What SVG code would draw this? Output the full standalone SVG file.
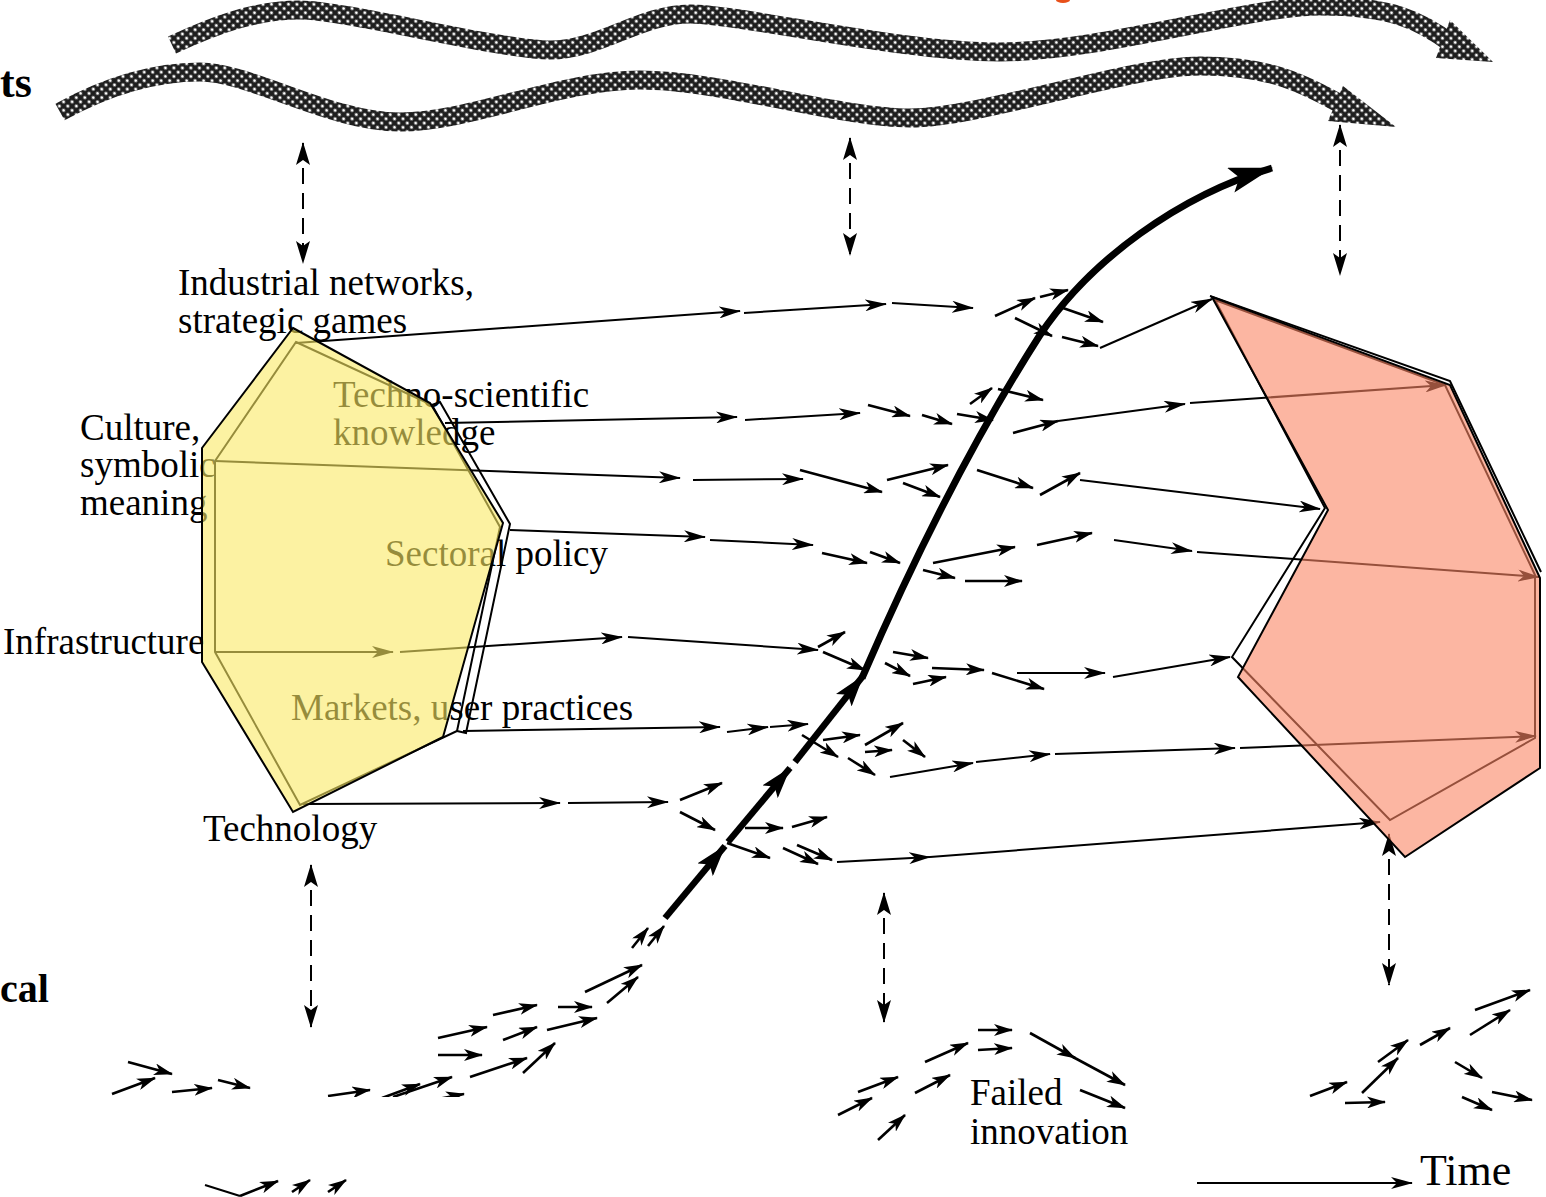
<svg xmlns="http://www.w3.org/2000/svg" width="1546" height="1197" viewBox="0 0 1546 1197">
<defs>
<style>
.t{font-family:"Liberation Serif","Times New Roman",serif;font-size:37px;fill:#000}
.b{font-weight:bold;font-size:44px}
.ln{fill:none;stroke:#000;stroke-width:2;marker-end:url(#m)}
.pl{fill:none;stroke:#000;stroke-width:2}
.sa{fill:none;stroke:#000;stroke-width:2.6;marker-end:url(#s)}
.ds{fill:none;stroke:#000;stroke-width:2;stroke-dasharray:16 9;marker-start:url(#d);marker-end:url(#d)}
.tk{fill:none;stroke:#000;stroke-width:6.5;marker-end:url(#tk)}
.wv{fill:none;stroke:url(#hatch);stroke-width:19}
</style>
<pattern id="hatch" width="6" height="6" patternUnits="userSpaceOnUse" patternTransform="rotate(45)">
<rect width="6" height="6" fill="#1e1e1e"/>
<circle cx="3" cy="3" r="1.6" fill="#fff"/>
</pattern>
<marker id="m" viewBox="0 0 22 12" refX="21" refY="6" markerWidth="22" markerHeight="12" markerUnits="userSpaceOnUse" orient="auto"><path d="M0,0 L22,6 L0,12 L6,6Z"/></marker>
<marker id="s" viewBox="0 0 19 12" refX="18" refY="6" markerWidth="19" markerHeight="12" markerUnits="userSpaceOnUse" orient="auto"><path d="M0,0 L19,6 L0,12 L5,6Z"/></marker>
<marker id="d" viewBox="0 0 23 14" refX="22" refY="7" markerWidth="23" markerHeight="14" markerUnits="userSpaceOnUse" orient="auto-start-reverse"><path d="M0,0 L23,7 L0,14 L5,7Z"/></marker>
<marker id="tk" viewBox="0 0 32 20" refX="31" refY="10" markerWidth="32" markerHeight="20" markerUnits="userSpaceOnUse" orient="auto"><path d="M0,0 L32,10 L0,20 L7,10Z"/></marker>
<marker id="bg" viewBox="0 0 44 26" refX="43" refY="13" markerWidth="44" markerHeight="26" markerUnits="userSpaceOnUse" orient="auto"><path d="M0,0 L44,13 L0,26 L9,13Z"/></marker>
</defs>
<rect width="1546" height="1197" fill="#fff"/>
<ellipse cx="1063" cy="0" rx="7" ry="3" fill="#e8501a"/>

<g id="labels">
<text class="t b" x="0" y="97">ts</text>
<text class="t" x="0" y="1002" style="font-weight:bold;font-size:40px">cal</text>
<text class="t" x="178" y="295">Industrial networks,</text>
<text class="t" x="178" y="333">strategic games</text>
<text class="t" x="333" y="407">Techno-scientific</text>
<text class="t" x="333" y="445">knowledge</text>
<text class="t" x="80" y="440">Culture,</text>
<text class="t" x="80" y="477">symbolic</text>
<text class="t" x="80" y="515">meaning</text>
<text class="t" x="385" y="566">Sectoral policy</text>
<text class="t" x="3" y="654">Infrastructure</text>
<text class="t" x="291" y="720">Markets, user practices</text>
<text class="t" x="203" y="841">Technology</text>
<text class="t" x="970" y="1105">Failed</text>
<text class="t" x="970" y="1144">innovation</text>
<text class="t" x="1420" y="1185" style="font-size:44px">Time</text>
</g>

<g id="landscape">
<path class="wv" d="M172,45 C215,25 255,10 300,10 S500,50 550,50 S640,14 690,14 S900,52 1000,52 S1250,6 1320,6 S1420,20 1452,44"/>
<polygon points="1450,20 1493,62 1436,58" fill="url(#hatch)"/>
<path class="wv" d="M60,112 C100,90 150,72 200,72 S330,122 400,122 S560,80 640,80 S840,118 910,118 S1130,66 1200,66 S1300,82 1348,108"/>
<polygon points="1343,86 1396,127 1328,121" fill="url(#hatch)"/>
</g>

<g id="connectors">
<path class="ds" d="M303,143 L303,263"/>
<path class="ds" d="M850,138 L850,255"/>
<path class="ds" d="M1340,125 L1340,275"/>
<path class="ds" d="M311,865 L311,1027"/>
<path class="ds" d="M884,893 L884,1022"/>
<path class="ds" d="M1389,834 L1389,985"/>

<g id="row-industrial">
<path class="ln" d="M296,343 L740,311"/>
<path class="ln" d="M744,313 L886,304"/>
<path class="ln" d="M892,303 L973,308"/>
<path class="sa" d="M995,316 L1035,298"/>
<path class="sa" d="M1040,297 L1068,290"/>
<path class="sa" d="M1015,318 L1052,336"/>
<path class="sa" d="M1063,308 L1103,322"/>
<path class="sa" d="M1062,337 L1098,346"/>
<path class="ln" d="M1100,348 L1212,299"/>
</g>
<g id="row-techno">
<path class="ln" d="M445,423 L737,417"/>
<path class="ln" d="M745,420 L860,413"/>
<path class="sa" d="M868,405 L910,416"/>
<path class="sa" d="M922,415 L952,424"/>
<path class="sa" d="M957,414 L993,420"/>
<path class="sa" d="M970,404 L992,388"/>
<path class="sa" d="M998,389 L1043,400"/>
<path class="sa" d="M1013,433 L1058,421"/>
<path class="ln" d="M1058,421 L1185,404"/>
<path class="ln" d="M1190,403 L1446,385"/>
</g>
<g id="row-culture">
<path class="ln" d="M215,461 L680,478"/>
<path class="ln" d="M693,480 L803,479"/>
<path class="sa" d="M800,470 L882,492"/>
<path class="sa" d="M887,480 L948,465"/>
<path class="sa" d="M903,483 L940,497"/>
<path class="sa" d="M977,470 L1033,488"/>
<path class="sa" d="M1040,495 L1080,473"/>
<path class="ln" d="M1080,480 L1320,509"/>
</g>
<g id="row-sectoral">
<path class="ln" d="M510,530 L705,537"/>
<path class="ln" d="M710,540 L813,545"/>
<path class="sa" d="M822,553 L867,563"/>
<path class="sa" d="M870,552 L900,563"/>
<path class="sa" d="M923,570 L955,578"/>
<path class="sa" d="M965,581 L1022,581"/>
<path class="sa" d="M933,563 L1015,547"/>
<path class="sa" d="M1037,545 L1092,533"/>
<path class="ln" d="M1114,540 L1192,551"/>
<path class="ln" d="M1197,552 L1539,577"/>
</g>
<g id="row-infrastructure">
<path class="ln" d="M215,652 L393,652"/>
<path class="ln" d="M400,652 L622,637"/>
<path class="ln" d="M628,637 L818,650"/>
<path class="sa" d="M818,647 L845,632"/>
<path class="sa" d="M823,652 L865,670"/>
<path class="sa" d="M893,652 L928,658"/>
<path class="sa" d="M885,663 L910,676"/>
<path class="sa" d="M913,684 L946,677"/>
<path class="sa" d="M932,668 L984,670"/>
<path class="sa" d="M992,673 L1044,689"/>
<path class="ln" d="M1017,673 L1105,673"/>
<path class="ln" d="M1113,677 L1230,657"/>
</g>
<g id="row-markets">
<path class="ln" d="M463,731 L720,727"/>
<path class="ln" d="M727,732 L768,727"/>
<path class="ln" d="M770,727 L808,724"/>
<path class="sa" d="M802,735 L838,757"/>
<path class="sa" d="M823,740 L860,735"/>
<path class="sa" d="M865,745 L903,723"/>
<path class="sa" d="M865,752 L892,750"/>
<path class="sa" d="M848,758 L875,775"/>
<path class="sa" d="M903,740 L925,757"/>
<path class="ln" d="M890,777 L973,763"/>
<path class="ln" d="M976,762 L1050,754"/>
<path class="ln" d="M1055,754 L1235,748"/>
<path class="ln" d="M1240,748 L1536,736"/>
</g>
<g id="row-technology">
<path class="ln" d="M303,804 L560,803"/>
<path class="ln" d="M568,803 L668,802"/>
<path class="sa" d="M680,800 L722,783"/>
<path class="sa" d="M680,812 L715,830"/>
<path class="sa" d="M745,828 L783,828"/>
<path class="sa" d="M792,827 L827,817"/>
<path class="sa" d="M727,843 L770,858"/>
<path class="sa" d="M783,848 L818,864"/>
<path class="sa" d="M797,845 L832,860"/>
<path class="ln" d="M837,862 L930,857"/>
<path class="ln" d="M930,857 L1380,822"/>
</g>
</g>

<g id="regime-left">
<path class="pl" d="M296,342 L432,405 L500,527 L457,731 L300,805 L215,652 L215,461 Z"/>
<path class="pl" d="M432,405 L440,402 L510,524 L466,733 L457,731"/>
<polygon points="293,328 430,403 503,523 443,737 293,812 202,662 202,448" fill="#fae964" fill-opacity="0.6" stroke="#000" stroke-width="2"/>
</g>

<g id="regime-right">
<path class="pl" d="M1215,300 L1445,385 L1535,575 L1535,738 L1390,820 L1232,657 L1325,508 Z"/>
<path class="pl" d="M1210,296 L1450,381 L1541,572"/>
<polygon points="1212,297 1450,385 1540,578 1540,768 1405,857 1238,677 1328,510" fill="#fa8564" fill-opacity="0.6" stroke="#000" stroke-width="2"/>
</g>

<g id="breakthrough">
<path class="tk" d="M665,918 L725,846"/>
<path class="tk" d="M728,842 L790,768"/>
<path class="tk" d="M795,762 L863,676"/>
<path d="M862,678 C900,590 960,460 1040,335 C1090,260 1180,195 1272,168" fill="none" stroke="#000" stroke-width="7" marker-end="url(#bg)"/>
</g>

<g id="niche-left">
<path class="sa" d="M128,1062 L172,1074"/>
<path class="sa" d="M112,1094 L155,1078"/>
<path class="sa" d="M172,1092 L212,1088"/>
<path class="sa" d="M218,1080 L250,1088"/>
<path class="sa" d="M328,1096 L370,1090"/>
<path class="sa" d="M382,1098 L420,1084"/>
<path class="sa" d="M393,1097 L452,1077"/>
<path class="sa" d="M438,1099 L464,1094"/>
<path class="sa" d="M470,1077 L527,1058"/>
<path class="sa" d="M523,1073 L555,1043"/>
<path class="sa" d="M438,1055 L482,1055"/>
<path class="sa" d="M438,1038 L487,1027"/>
<path class="sa" d="M503,1040 L537,1027"/>
<path class="sa" d="M493,1015 L537,1005"/>
<path class="sa" d="M547,1030 L597,1018"/>
<path class="sa" d="M558,1007 L592,1007"/>
<path class="sa" d="M585,992 L642,965"/>
<path class="sa" d="M607,1003 L638,977"/>
<path class="sa" d="M632,948 L648,928"/>
<path class="sa" d="M648,946 L664,926"/>
<rect x="100" y="1097" width="380" height="82" fill="#fff"/>
<path class="pl" d="M205,1185 L240,1196"/>
<path class="sa" d="M240,1196 L278,1181"/>
<path class="sa" d="M292,1192 L310,1180"/>
<path class="sa" d="M328,1192 L346,1180"/>
<rect x="190" y="1160" width="180" height="19" fill="#fff"/>
</g>

<g id="niche-failed">
<path class="sa" d="M838,1115 L872,1098"/>
<path class="sa" d="M858,1092 L898,1077"/>
<path class="sa" d="M878,1140 L905,1115"/>
<path class="sa" d="M915,1093 L950,1075"/>
<path class="sa" d="M925,1062 L968,1043"/>
<path class="sa" d="M978,1030 L1012,1030"/>
<path class="sa" d="M978,1050 L1012,1048"/>
<path class="sa" d="M1030,1033 L1075,1058"/>
<path class="sa" d="M1073,1057 L1125,1085"/>
<path class="sa" d="M1080,1090 L1125,1108"/>
</g>

<g id="niche-right">
<path class="sa" d="M1310,1096 L1347,1082"/>
<path class="sa" d="M1345,1103 L1385,1102"/>
<path class="sa" d="M1362,1093 L1398,1058"/>
<path class="sa" d="M1378,1062 L1408,1040"/>
<path class="sa" d="M1420,1045 L1450,1028"/>
<path class="sa" d="M1475,1010 L1530,990"/>
<path class="sa" d="M1470,1035 L1510,1010"/>
<path class="sa" d="M1455,1062 L1482,1078"/>
<path class="sa" d="M1462,1097 L1492,1110"/>
<path class="sa" d="M1492,1092 L1532,1100"/>
</g>

<g id="time-axis">
<path class="ln" d="M1197,1183 L1412,1183"/>
</g>
</svg>
